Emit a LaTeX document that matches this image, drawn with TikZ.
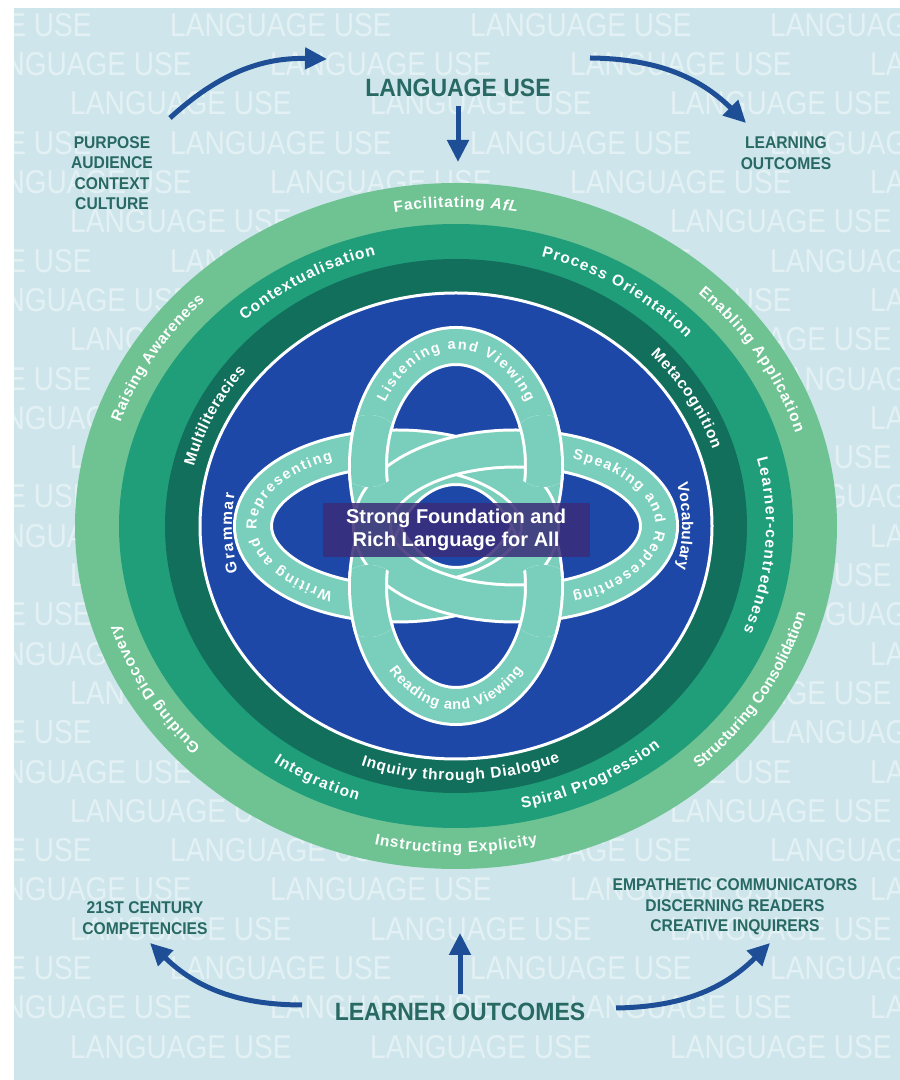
\documentclass[tikz,border=0pt]{standalone}
\usepackage{fontspec}
\setmainfont{Liberation Sans}
\newfontfamily\capsface[FakeStretch=0.92]{Liberation Sans}
\newfontfamily\markface[FakeStretch=0.85]{Liberation Sans}
\newcommand\ringfont{\bfseries\fontsize{15.5}{17}\selectfont}
\newcommand\loopfont{\bfseries\fontsize{14.5}{16}\selectfont}
\usetikzlibrary{arrows.meta, calc, decorations.text, positioning}

\definecolor{skyback}{RGB}{206,230,235}
\definecolor{outergreen}{RGB}{111,195,147}
\definecolor{midgreen}{RGB}{32,158,122}
\definecolor{deepteal}{RGB}{17,111,92}
\definecolor{coreblue}{RGB}{30,72,168}
\definecolor{loopteal}{RGB}{122,207,188}
\definecolor{boxviolet}{RGB}{58,44,120}
\definecolor{labelteal}{RGB}{40,105,100}
\definecolor{arrowblue}{RGB}{30,78,150}

\begin{document}
\begin{tikzpicture}[x=1pt, y=1pt,
    flow/.style={draw=arrowblue, line width=5pt, -{Triangle[length=22pt, width=21pt]}},
    watermark/.style={font=\markface\fontsize{33}{33}\selectfont, text=white, opacity=0.45, inner sep=0pt, anchor=west},
    bigtitle/.style={font=\capsface\bfseries\fontsize{25}{28}\selectfont, text=labelteal, inner sep=3pt},
    sidelabel/.style={font=\capsface\bfseries\fontsize{17}{20.5}\selectfont, text=labelteal, align=center, inner sep=2pt},
    strand/.style={draw=white, line width=3pt, double=loopteal, double distance=34pt},
    corebox/.style={fill=boxviolet, fill opacity=0.85, text opacity=1, text=white, align=center,
        font=\bfseries\fontsize{20}{23}\selectfont, minimum width=267pt, minimum height=54pt, inner sep=0pt},
    ringlabel/.style={decorate, decoration={text along path, text={|\ringfont|#1}, text align={fit to path}, text color=white}},
    looplabel/.style={decorate, decoration={text along path, text={|\loopfont|#1}, text align={fit to path}, text color=white}}]

    \useasboundingbox (0,0) rectangle (900,1080);
    \fill[skyback] (14,0) rectangle (900,1072);

    % background lettering
    \begin{scope}
        \clip (14,0) rectangle (900,1072);
        \foreach \n in {0,...,26}{
            \pgfmathsetmacro\rowy{1055-39.3*\n}
            \pgfmathsetmacro\rowx{mod(170+100*mod(\n,3),300)-300}
            \foreach \k in {0,...,4}
                \node[watermark] (wm\n-\k) at (\rowx+300*\k, \rowy) {LANGUAGE USE};
        }
    \end{scope}

    \begin{scope}[shift={(456,554)}]
        % rings
        \fill[outergreen] (0,0) ellipse[x radius=381, y radius=343];
        \fill[midgreen] (0,0) ellipse[x radius=337, y radius=302];
        \fill[deepteal] (0,0) ellipse[x radius=291, y radius=267];
        \filldraw[fill=coreblue, draw=white, line width=3pt] (0,0) ellipse[x radius=256, y radius=233];

        % four loops, woven
        \draw[strand] (0,60) ellipse[x radius=88, y radius=120];
        \draw[strand] (0,-60) ellipse[x radius=88, y radius=120];
        \draw[strand] (-59.5,0) ellipse[x radius=143.5, y radius=77.5];
        \draw[strand] (59.5,0) ellipse[x radius=143.5, y radius=77.5];
        \begin{scope}
            \clip (-87.2,75) circle[radius=36] (87.2,75) circle[radius=36];
            \draw[strand] (0,60) ellipse[x radius=88, y radius=120];
        \end{scope}
        \begin{scope}
            \clip (-87.2,-75) circle[radius=36] (87.2,-75) circle[radius=36];
            \draw[strand] (0,-60) ellipse[x radius=88, y radius=120];
        \end{scope}

        \node[corebox] (core) at (0,-4) {Strong Foundation and\\Rich Language for All};

        % outer ring
        \path[ringlabel={Facilitating |\ringfont\itshape|AfL}] (100:355 and 318.5) arc[start angle=100, end angle=80, x radius=355, y radius=318.5];
        \path[ringlabel={Enabling Application}] (47:355 and 318.5) arc[start angle=47, end angle=17, x radius=355, y radius=318.5];
        \path[ringlabel={Structuring Consolidation}] (-48:363 and 326.5) arc[start angle=-48, end angle=-16, x radius=363, y radius=326.5];
        \path[ringlabel={Instructing Explicity}] (-103:363 and 326.5) arc[start angle=-103, end angle=-77, x radius=363, y radius=326.5];
        \path[ringlabel={Guiding Discovery}] (-136:355 and 318.5) arc[start angle=-136, end angle=-162, x radius=355, y radius=318.5];
        \path[ringlabel={Raising Awareness}] (161:355 and 318.5) arc[start angle=161, end angle=135, x radius=355, y radius=318.5];

        % middle ring
        \path[ringlabel={Contextualisation}] (133:310 and 280.5) arc[start angle=133, end angle=105, x radius=310, y radius=280.5];
        \path[ringlabel={Process Orientation}] (74:310 and 280.5) arc[start angle=74, end angle=42, x radius=310, y radius=280.5];
        \path[ringlabel={Learner-centredness}] (14:310 and 280.5) arc[start angle=14, end angle=-22, x radius=310, y radius=280.5];
        \path[ringlabel={Spiral Progression}] (-78:318 and 288.5) arc[start angle=-78, end angle=-50, x radius=318, y radius=288.5];
        \path[ringlabel={Integration}] (-125:318 and 288.5) arc[start angle=-125, end angle=-108, x radius=318, y radius=288.5];

        % inner ring
        \path[ringlabel={Multiliteracies}] (166:270 and 246.5) arc[start angle=166, end angle=141, x radius=270, y radius=246.5];
        \path[ringlabel={Metacognition}] (44:270 and 246.5) arc[start angle=44, end angle=18, x radius=270, y radius=246.5];
        \path[ringlabel={Inquiry through Dialogue}] (-110:278 and 254.5) arc[start angle=-110, end angle=-68, x radius=278, y radius=254.5];

        % blue core
        \path[ringlabel={Grammar}] (193:224 and 205) arc[start angle=193, end angle=171, x radius=224, y radius=205];
        \path[ringlabel={Vocabulary}] (12:226 and 205) arc[start angle=12, end angle=-12, x radius=226, y radius=205];

        % loop labels
        \path[looplabel={Listening and Viewing}] ($(0,60)+(147:84.5 and 116.5)$) arc[start angle=147, end angle=33, x radius=84.5, y radius=116.5];
        \path[looplabel={Reading and Viewing}] ($(0,-60)+(-137:91.5 and 123.5)$) arc[start angle=-137, end angle=-43, x radius=91.5, y radius=123.5];
        \path[looplabel={Writing and Representing}] ($(-59.5,0)+(243:140 and 74)$) arc[start angle=243, end angle=117, x radius=140, y radius=74];
        \path[looplabel={Speaking and Representing}] ($(59.5,0)+(66:140 and 74)$) arc[start angle=66, end angle=-66, x radius=140, y radius=74];
    \end{scope}

    % labels outside
    \node[bigtitle] (languse) at (458,992) {LANGUAGE USE};
    \node[sidelabel] (purpose) at (112,907) {PURPOSE\\AUDIENCE\\CONTEXT\\CULTURE};
    \node[sidelabel] (learning) at (786,927) {LEARNING\\OUTCOMES};
    \node[sidelabel] (century) at (145,162) {21ST CENTURY\\COMPETENCIES};
    \node[sidelabel] (qualities) at (735,173) {EMPATHETIC COMMUNICATORS\\DISCERNING READERS\\CREATIVE INQUIRERS};
    \node[bigtitle] (learner) at (460,68) {LEARNER OUTCOMES};

    % arrows
    \coordinate (tl-tail) at (170,962);
    \coordinate (tl-head) at (327,1021);
    \coordinate (tr-tail) at (590,1022);
    \coordinate (tr-head) at (746,957);
    \coordinate (down-head) at (458,918);
    \coordinate (up-head) at (460,147);
    \coordinate (bl-tail) at (302,75);
    \coordinate (bl-head) at (150,137);
    \coordinate (br-tail) at (616,72);
    \coordinate (br-head) at (770,137);
    \draw[flow] (tl-tail) to[bend left=22] (tl-head);
    \draw[flow] (tr-tail) to[bend left=22] (tr-head);
    \draw[flow, shorten <=6pt] (languse.south) -- (down-head);
    \draw[flow, shorten <=6pt] (learner.north) -- (up-head);
    \draw[flow] (bl-tail) to[bend left=22] (bl-head);
    \draw[flow] (br-tail) to[bend right=22] (br-head);
\end{tikzpicture}
\end{document}
